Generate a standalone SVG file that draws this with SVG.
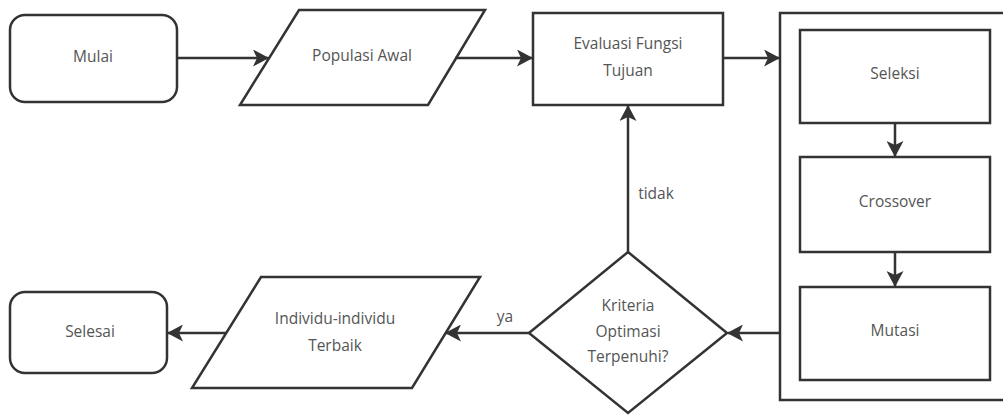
<svg xmlns="http://www.w3.org/2000/svg" width="1003" height="415" viewBox="0 0 1003 415">
<style>
.s{fill:#fff;stroke:#333;stroke-width:2.5}
.c{fill:none;stroke:#333;stroke-width:2.5}
text{font-family:"Open Sans","Noto Sans",sans-serif;font-size:15.5px;fill:#555;text-anchor:middle;dominant-baseline:middle}
</style>
<defs>
<marker id="a" markerWidth="17" markerHeight="17" refX="15" refY="8.5" orient="auto" markerUnits="userSpaceOnUse">
<path d="M0,0 L16,8.5 L0,17 L4,8.5 Z" fill="#333"/>
</marker>
</defs>
<rect width="1003" height="415" fill="#fff"/>
<g id="container"><rect class="s" x="780" y="13" width="240" height="387"/></g>
<g id="mulai"><rect class="s" x="10" y="15" width="167" height="87" rx="15"/><text x="93" y="58">Mulai</text></g>
<g id="populasi"><polygon class="s" points="299,10 485,10 428,105 240,105"/><text x="362" y="57">Populasi Awal</text></g>
<g id="evaluasi"><rect class="s" x="533" y="13" width="190" height="92"/><text x="628" y="45">Evaluasi Fungsi</text><text x="628" y="72">Tujuan</text></g>
<g id="seleksi"><rect class="s" x="800" y="30" width="190" height="93"/><text x="895" y="75">Seleksi</text></g>
<g id="crossover"><rect class="s" x="800" y="157" width="190" height="95"/><text x="895" y="203">Crossover</text></g>
<g id="mutasi"><rect class="s" x="800" y="287" width="190" height="93"/><text x="895" y="332">Mutasi</text></g>
<g id="kriteria"><polygon class="s" points="628,252 727,333 628,413 529,333"/><text x="628" y="307">Kriteria</text><text x="628" y="333">Optimasi</text><text x="628" y="358">Terpenuhi?</text></g>
<g id="individu"><polygon class="s" points="261,277 480,277 412,388 192,388"/><text x="335" y="320">Individu-individu</text><text x="335" y="347">Terbaik</text></g>
<g id="selesai"><rect class="s" x="10" y="292" width="157" height="81" rx="15"/><text x="90" y="333">Selesai</text></g>
<g id="connectors">
<line class="c" x1="177" y1="58" x2="268" y2="58" marker-end="url(#a)"/>
<line class="c" x1="455" y1="58" x2="532" y2="58" marker-end="url(#a)"/>
<line class="c" x1="723" y1="58" x2="779" y2="58" marker-end="url(#a)"/>
<line class="c" x1="895" y1="123" x2="895" y2="156" marker-end="url(#a)"/>
<line class="c" x1="895" y1="252" x2="895" y2="286" marker-end="url(#a)"/>
<line class="c" x1="780" y1="333" x2="728" y2="333" marker-end="url(#a)"/>
<line class="c" x1="628" y1="252" x2="628" y2="106" marker-end="url(#a)"/>
<line class="c" x1="529" y1="333" x2="446" y2="333" marker-end="url(#a)"/>
<line class="c" x1="226" y1="333" x2="168" y2="333" marker-end="url(#a)"/>
<text x="656" y="195">tidak</text>
<text x="505" y="318">ya</text>
</g>
</svg>
